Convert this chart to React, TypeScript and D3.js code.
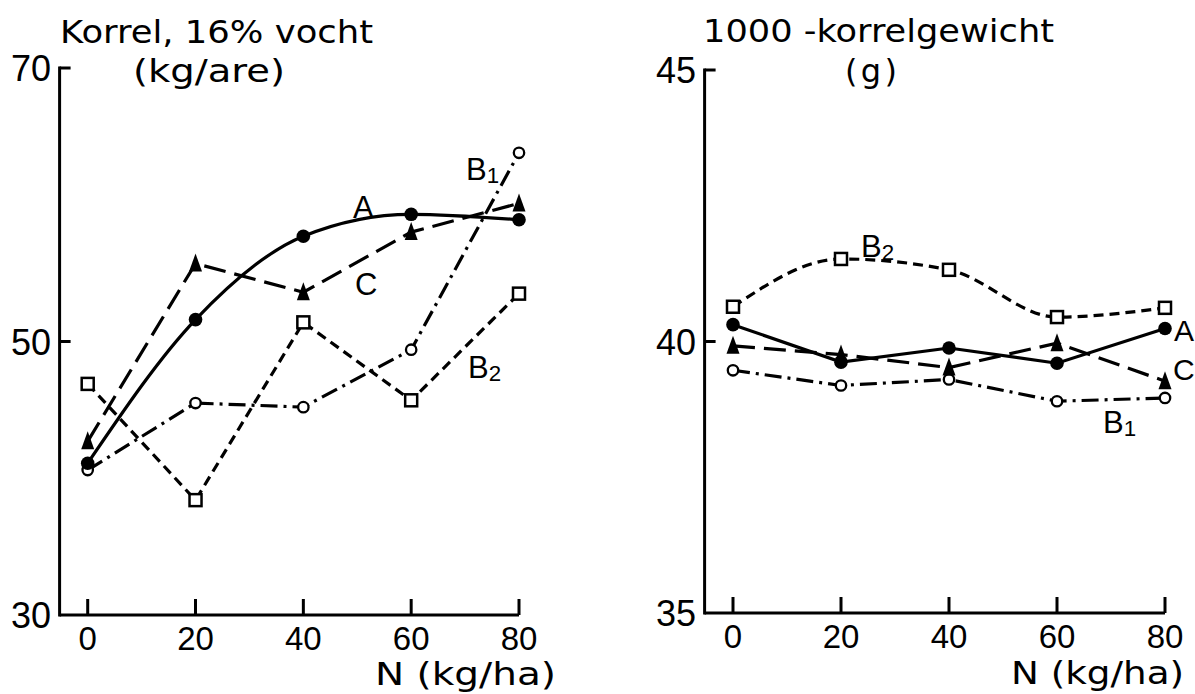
import React from "react";
import * as d3 from "d3";

const nLevels = [0, 20, 40, 60, 80];
const xTickLabels = ["0", "20", "40", "60", "80"];

// Left panel: Korrel, 16% vocht (kg/are)
const yieldA = [41.1, 51.6, 57.7, 59.3, 58.9];
const yieldB1 = [40.6, 45.5, 45.2, 49.4, 63.8];
const yieldB2 = [46.9, 38.4, 51.4, 45.7, 53.5];
const yieldC = [42.7, 55.7, 53.6, 58.0, 60.1];
const yieldTicks = [30, 50, 70];

// Right panel: 1000-korrelgewicht (g)
const kwA = [40.31, 39.62, 39.88, 39.6, 40.24];
const kwB1 = [39.47, 39.19, 39.3, 38.9, 38.96];
const kwB2 = [40.64, 41.52, 41.32, 40.45, 40.62];
const kwC = [39.92, 39.76, 39.52, 39.97, 39.27];
const kwTicks = [35, 40, 45];

const FONT = "'Liberation Sans', Arial, sans-serif";
const TFONT = "'DejaVu Sans', 'Liberation Sans', sans-serif";

type Marker = "filled" | "open" | "square" | "triangle";

function MarkerShape({ kind, x, y }: { kind: Marker; x: number; y: number }) {
  if (kind === "filled") return <circle cx={x} cy={y} r={6.8} fill="#000" />;
  if (kind === "open")
    return <circle cx={x} cy={y} r={5.2} fill="#fff" stroke="#000" strokeWidth={2.3} />;
  if (kind === "square")
    return <rect x={x - 6} y={y - 6} width={12} height={12} fill="#fff" stroke="#000" strokeWidth={2.5} />;
  return <path d={`M${x},${y - 10} L${x + 6.5},${y + 8} L${x - 6.5},${y + 8} Z`} fill="#000" />;
}

type Series = { values: number[]; dash: string; marker: Marker; curve?: boolean };

function Panel({
  x0, x1, yTop, yBot, axisX, domain, ticks, series, labelX,
}: {
  x0: number; x1: number; yTop: number; yBot: number; axisX: number;
  domain: [number, number]; ticks: number[]; series: Series[]; labelX: number;
}) {
  const x = d3.scaleLinear().domain([0, 80]).range([x0, x1]);
  const y = d3.scaleLinear().domain(domain).range([yBot, yTop]);
  return (
    <g>
      <line x1={axisX} x2={axisX} y1={y(domain[1]) - 1.5} y2={yBot + 1.5} stroke="#000" strokeWidth={3} />
      <line x1={axisX} x2={x(80)} y1={yBot} y2={yBot} stroke="#000" strokeWidth={3} />
      {ticks.map((t) => (
        <g key={t}>
          {t !== domain[0] && (
            <line x1={axisX} x2={axisX + 11} y1={y(t)} y2={y(t)} stroke="#000" strokeWidth={3} />
          )}
          <text x={labelX} y={y(t) + 13} textAnchor="end" fontSize={36} fontFamily={FONT}>
            {t}
          </text>
        </g>
      ))}
      {nLevels.map((n, i) => (
        <g key={n}>
          <line x1={x(n)} x2={x(n)} y1={yBot} y2={yBot - 16} stroke="#000" strokeWidth={3} />
          <text x={x(n)} y={yBot + 35} textAnchor="middle" fontSize={33} fontFamily={FONT}>
            {xTickLabels[i]}
          </text>
        </g>
      ))}
      {series.map((s, si) => {
        const gen = d3
          .line<number>()
          .x((_, i) => x(nLevels[i]))
          .y((v) => y(v))
          .curve(s.curve ? d3.curveMonotoneX : d3.curveLinear);
        return (
          <path key={si} d={gen(s.values) || ""} fill="none" stroke="#000" strokeWidth={3.2} strokeDasharray={s.dash} />
        );
      })}
      {series.map((s, si) => (
        <g key={"m" + si}>
          {s.values.map((v, i) => (
            <MarkerShape key={i} kind={s.marker} x={x(nLevels[i])} y={y(v)} />
          ))}
        </g>
      ))}
    </g>
  );
}

function Label({ x, y, main, sub, size = 31 }: { x: number; y: number; main: string; sub?: string; size?: number }) {
  return (
    <text x={x} y={y} fontSize={size} fontFamily={FONT}>
      {main}
      {sub && (
        <tspan fontSize={size * 0.72} dy={3}>
          {sub}
        </tspan>
      )}
    </text>
  );
}

export default function App() {
  const leftSeries: Series[] = [
    { values: yieldB2, dash: "10 6", marker: "square" },
    { values: yieldB1, dash: "17 6 3 6", marker: "open" },
    { values: yieldC, dash: "22 9", marker: "triangle" },
    { values: yieldA, dash: "", marker: "filled", curve: true },
  ];
  const rightSeries: Series[] = [
    { values: kwB2, dash: "10 6", marker: "square", curve: true },
    { values: kwB1, dash: "17 6 3 6", marker: "open" },
    { values: kwC, dash: "22 9", marker: "triangle" },
    { values: kwA, dash: "", marker: "filled" },
  ];
  return (
    <svg width={1195} height={694} style={{ position: "absolute", left: 0, top: 0, background: "#fff" }}>
      <rect width={1195} height={694} fill="#fff" />
      <Panel x0={87.7} x1={519} yTop={68} yBot={615} axisX={59.6} domain={[30, 70]} ticks={yieldTicks} series={leftSeries} labelX={51} />
      <Panel x0={733} x1={1165} yTop={70} yBot={613} axisX={704.6} domain={[35, 45]} ticks={kwTicks} series={rightSeries} labelX={696} />

      {/* titles */}
      <text x={60} y={43} fontSize={32} fontFamily={TFONT} textLength={313} lengthAdjust="spacingAndGlyphs">
        Korrel, 16% vocht
      </text>
      <text x={133} y={82} fontSize={32} fontFamily={TFONT} textLength={152} lengthAdjust="spacingAndGlyphs">
        (kg/are)
      </text>
      <text x={703} y={42} fontSize={32} fontFamily={TFONT} textLength={351} lengthAdjust="spacingAndGlyphs">
        1000 -korrelgewicht
      </text>
      <text x={845} y={82} fontSize={32} fontFamily={TFONT} textLength={52} lengthAdjust="spacing">
        (g)
      </text>

      {/* x axis titles */}
      <text x={375} y={685} fontSize={32} fontFamily={TFONT} textLength={181} lengthAdjust="spacingAndGlyphs">
        N (kg/ha)
      </text>
      <text x={1011} y={684} fontSize={32} fontFamily={TFONT} textLength={173} lengthAdjust="spacingAndGlyphs">
        N (kg/ha)
      </text>

      {/* series labels left */}
      <Label x={353} y={218} main="A" />
      <Label x={355} y={295} main="C" />
      <Label x={466} y={180} main="B" sub="1" />
      <Label x={468} y={378} main="B" sub="2" />

      {/* series labels right */}
      <Label x={861} y={257} main="B" sub="2" />
      <Label x={1174} y={341} main="A" size={30} />
      <Label x={1173} y={380} main="C" size={30} />
      <Label x={1103} y={433} main="B" sub="1" />
    </svg>
  );
}
